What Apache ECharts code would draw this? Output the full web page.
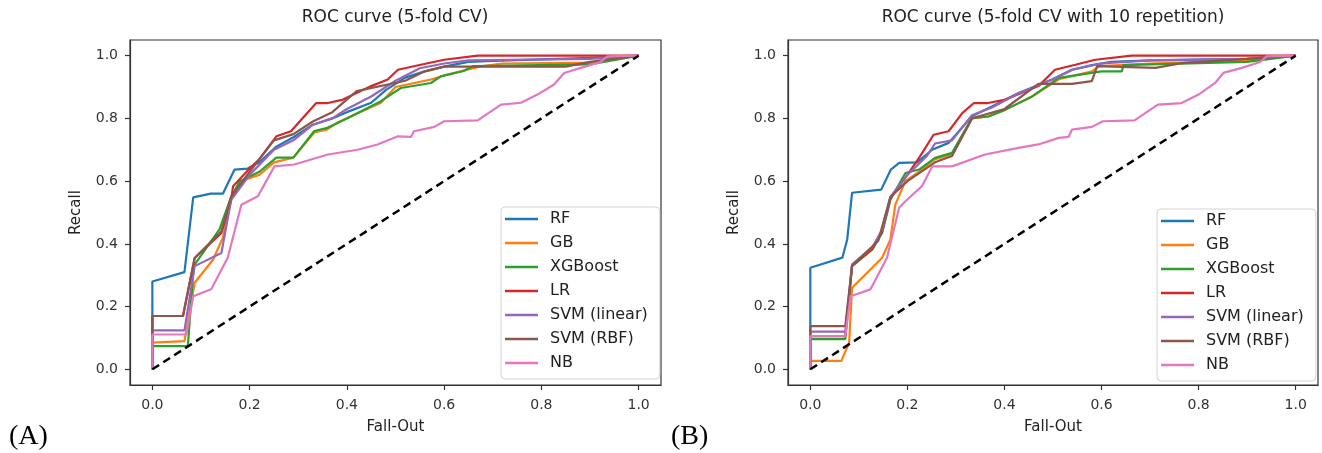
<!DOCTYPE html>
<html>
<head>
<meta charset="utf-8">
<script src="https://cdn.jsdelivr.net/npm/echarts@6/dist/echarts.min.js"></script>
<style>
html,body{margin:0;padding:0;background:#fff;}
#chart{width:1322px;height:453px;}
</style>
</head>
<body>
<div id="chart"></div>
<script>
// ---- Data ----
const modelNames = ['RF', 'GB', 'XGBoost', 'LR', 'SVM (linear)', 'SVM (RBF)', 'NB'];
const tickValues = [0, 0.2, 0.4, 0.6, 0.8, 1.0];
const titleA = 'ROC curve (5-fold CV)';
const titleB = 'ROC curve (5-fold CV with 10 repetition)';
const diagonal = [[0, 0], [1, 1]];

// Panel A: [fall-out, recall]
const rocA_RF = [[0,0],[0,0.28],[0.066,0.31],[0.084,0.548],[0.12,0.56],[0.145,0.56],[0.169,0.637],[0.196,0.64],[0.22,0.66],[0.255,0.71],[0.29,0.74],[0.33,0.78],[0.37,0.80],[0.40,0.82],[0.45,0.85],[0.48,0.89],[0.52,0.93],[0.56,0.95],[0.6,0.965],[0.65,0.98],[0.7,0.983],[0.8,0.988],[0.9,0.993],[1,1]];
const rocA_GB = [[0,0],[0,0.085],[0.066,0.09],[0.087,0.276],[0.125,0.35],[0.145,0.42],[0.162,0.54],[0.18,0.60],[0.22,0.62],[0.25,0.66],[0.29,0.675],[0.333,0.755],[0.36,0.765],[0.38,0.786],[0.42,0.815],[0.47,0.85],[0.5,0.9],[0.573,0.924],[0.607,0.94],[0.675,0.966],[0.72,0.975],[0.9,0.978],[1,1]];
const rocA_XGB = [[0,0],[0,0.074],[0.073,0.074],[0.085,0.33],[0.138,0.446],[0.162,0.55],[0.18,0.60],[0.22,0.63],[0.255,0.675],[0.29,0.675],[0.333,0.76],[0.36,0.77],[0.4,0.80],[0.47,0.855],[0.511,0.897],[0.573,0.913],[0.593,0.934],[0.64,0.951],[0.66,0.967],[0.9,0.972],[1,1]];
const rocA_LR = [[0,0],[0,0.17],[0.063,0.17],[0.087,0.355],[0.142,0.435],[0.162,0.54],[0.166,0.584],[0.2,0.64],[0.22,0.67],[0.255,0.743],[0.285,0.759],[0.337,0.849],[0.361,0.849],[0.392,0.86],[0.45,0.903],[0.484,0.924],[0.505,0.955],[0.552,0.971],[0.6,0.987],[0.669,1],[1,1]];
const rocA_SVML = [[0,0],[0,0.124],[0.066,0.124],[0.087,0.329],[0.142,0.371],[0.162,0.54],[0.2,0.62],[0.25,0.70],[0.29,0.73],[0.33,0.78],[0.37,0.80],[0.40,0.83],[0.45,0.87],[0.5,0.92],[0.55,0.96],[0.6,0.975],[0.65,0.985],[0.9,0.99],[1,1]];
const rocA_SVMR = [[0,0],[0,0.17],[0.063,0.17],[0.087,0.355],[0.142,0.44],[0.162,0.55],[0.2,0.63],[0.25,0.73],[0.29,0.75],[0.33,0.79],[0.37,0.82],[0.42,0.887],[0.484,0.908],[0.52,0.92],[0.56,0.95],[0.6,0.965],[0.85,0.965],[0.9,0.98],[1,1]];
const rocA_NB = [[0,0],[0,0.111],[0.07,0.111],[0.084,0.233],[0.121,0.255],[0.155,0.356],[0.183,0.525],[0.217,0.552],[0.251,0.647],[0.292,0.653],[0.361,0.685],[0.422,0.70],[0.463,0.717],[0.505,0.743],[0.532,0.741],[0.538,0.759],[0.58,0.773],[0.6,0.791],[0.669,0.794],[0.717,0.844],[0.758,0.85],[0.792,0.876],[0.826,0.908],[0.847,0.945],[0.881,0.961],[0.922,0.98],[0.936,0.998],[1,1]];

// Panel B: [fall-out, recall]
const rocB_RF = [[0,0],[0,0.324],[0.066,0.356],[0.076,0.414],[0.086,0.563],[0.146,0.573],[0.166,0.637],[0.183,0.658],[0.22,0.66],[0.251,0.70],[0.285,0.722],[0.333,0.807],[0.374,0.838],[0.429,0.881],[0.498,0.924],[0.539,0.955],[0.58,0.97],[0.62,0.98],[0.7,0.985],[0.9,0.99],[1,1]];
const rocB_GB = [[0,0],[0,0.027],[0.064,0.027],[0.08,0.085],[0.086,0.26],[0.148,0.356],[0.165,0.414],[0.175,0.525],[0.196,0.60],[0.224,0.63],[0.257,0.67],[0.292,0.685],[0.333,0.80],[0.367,0.806],[0.402,0.828],[0.457,0.87],[0.512,0.925],[0.58,0.95],[0.595,0.967],[0.7,0.975],[0.9,0.985],[1,1]];
const rocB_XGB = [[0,0],[0,0.096],[0.072,0.096],[0.086,0.329],[0.128,0.382],[0.148,0.435],[0.165,0.541],[0.196,0.626],[0.224,0.637],[0.257,0.674],[0.292,0.69],[0.333,0.801],[0.367,0.806],[0.402,0.828],[0.457,0.87],[0.512,0.929],[0.6,0.95],[0.642,0.95],[0.645,0.97],[0.9,0.98],[1,1]];
const rocB_LR = [[0,0],[0,0.106],[0.072,0.106],[0.086,0.33],[0.128,0.385],[0.148,0.44],[0.165,0.545],[0.2,0.62],[0.224,0.674],[0.254,0.748],[0.285,0.759],[0.313,0.817],[0.337,0.849],[0.366,0.849],[0.402,0.86],[0.47,0.903],[0.504,0.955],[0.546,0.971],[0.587,0.987],[0.662,1],[1,1]];
const rocB_SVML = [[0,0],[0,0.12],[0.072,0.12],[0.086,0.335],[0.128,0.39],[0.148,0.445],[0.165,0.55],[0.2,0.62],[0.24,0.68],[0.257,0.72],[0.292,0.73],[0.333,0.81],[0.374,0.835],[0.43,0.88],[0.5,0.925],[0.54,0.955],[0.6,0.975],[0.7,0.985],[0.9,0.99],[1,1]];
const rocB_SVMR = [[0,0],[0,0.138],[0.072,0.138],[0.086,0.33],[0.14,0.41],[0.165,0.55],[0.2,0.6],[0.257,0.66],[0.292,0.68],[0.333,0.80],[0.4,0.83],[0.47,0.91],[0.539,0.91],[0.58,0.919],[0.591,0.967],[0.711,0.961],[0.765,0.976],[1,1]];
const rocB_NB = [[0,0],[0,0.106],[0.072,0.106],[0.083,0.233],[0.124,0.255],[0.158,0.356],[0.183,0.515],[0.196,0.536],[0.23,0.584],[0.251,0.647],[0.292,0.647],[0.36,0.685],[0.429,0.706],[0.47,0.717],[0.512,0.738],[0.532,0.741],[0.539,0.764],[0.58,0.773],[0.603,0.791],[0.668,0.794],[0.716,0.844],[0.765,0.849],[0.8,0.876],[0.834,0.913],[0.851,0.945],[0.889,0.961],[0.927,0.98],[0.94,0.998],[1,1]];

const colors = ['#1f77b4', '#ff7f0e', '#2ca02c', '#d62728', '#9467bd', '#8c564b', '#e377c2'];
const panelA = [rocA_RF, rocA_GB, rocA_XGB, rocA_LR, rocA_SVML, rocA_SVMR, rocA_NB];
const panelB = [rocB_RF, rocB_GB, rocB_XGB, rocB_LR, rocB_SVML, rocB_SVMR, rocB_NB];

// ---- Chart ----
const FONT = 'DejaVu Sans';
function makeX(gi) {
  return {
    type: 'value', gridIndex: gi, min: -0.046, max: 1.046,
    name: 'Fall-Out', nameLocation: 'middle', nameGap: 35,
    nameTextStyle: {fontFamily: FONT, fontSize: 15, color: '#222'},
    axisLine: {show: true, onZero: false, lineStyle: {color: '#333', width: 1.2}},
    axisTick: {show: true, length: 5, customValues: tickValues, lineStyle: {color: '#333', width: 1.2}},
    axisLabel: {customValues: tickValues, margin: 13, fontFamily: FONT, fontSize: 14, color: '#333',
      formatter: v => v.toFixed(1)},
    splitLine: {show: false}
  };
}
function makeY(gi) {
  return {
    type: 'value', gridIndex: gi, min: -0.05, max: 1.05,
    name: 'Recall', nameLocation: 'middle', nameGap: 46,
    nameTextStyle: {fontFamily: FONT, fontSize: 15, color: '#222'},
    axisLine: {show: true, onZero: false, lineStyle: {color: '#333', width: 1.2}},
    axisTick: {show: true, length: 5, customValues: tickValues, lineStyle: {color: '#333', width: 1.2}},
    axisLabel: {customValues: tickValues, margin: 12, fontFamily: FONT, fontSize: 14, color: '#333',
      formatter: v => v.toFixed(1)},
    splitLine: {show: false}
  };
}
function makeLegend(left, top) {
  return {
    orient: 'vertical', left: left, top: top,
    data: modelNames, icon: 'rect', itemWidth: 33, itemHeight: 2.5, itemGap: 8,
    padding: [4, 12, 8, 4],
    backgroundColor: 'rgba(255,255,255,0.85)', borderColor: '#d4d4d4', borderWidth: 1, borderRadius: 4,
    selectedMode: false,
    textStyle: {fontFamily: FONT, fontSize: 16, lineHeight: 16, color: '#222', padding: [0, 0, 0, 7]}
  };
}
const series = [];
[panelA, panelB].forEach((panel, gi) => {
  panel.forEach((data, i) => {
    series.push({
      type: 'line', name: modelNames[i], xAxisIndex: gi, yAxisIndex: gi, data: data,
      symbol: 'none', showSymbol: false, animation: false,
      itemStyle: {color: colors[i]},
      lineStyle: {color: colors[i], width: 2.2}
    });
  });
  series.push({
    type: 'line', name: 'chance', xAxisIndex: gi, yAxisIndex: gi, data: diagonal,
    symbol: 'none', showSymbol: false, animation: false,
    itemStyle: {color: '#000'},
    lineStyle: {color: '#000', width: 2.5, type: [8, 5]}
  });
});

const chart = echarts.init(document.getElementById('chart'), null, {renderer: 'canvas'});
chart.setOption({
  animation: false,
  backgroundColor: '#fff',
  title: [
    {text: titleA, left: 395, top: 9, textAlign: 'center', padding: 0,
      textStyle: {fontFamily: FONT, fontSize: 17, fontWeight: 'normal', color: '#222'}},
    {text: titleB, left: 1053, top: 9, textAlign: 'center', padding: 0,
      textStyle: {fontFamily: FONT, fontSize: 17, fontWeight: 'normal', color: '#222'}}
  ],
  grid: [
    {left: 130, top: 40, width: 531, height: 345, show: true, borderColor: '#333', borderWidth: 1.2, containLabel: false},
    {left: 788, top: 40, width: 530, height: 345, show: true, borderColor: '#333', borderWidth: 1.2, containLabel: false}
  ],
  xAxis: [makeX(0), makeX(1)],
  yAxis: [makeY(0), makeY(1)],
  legend: [makeLegend(501, 207), makeLegend(1157, 209)],
  graphic: [
    {type: 'text', left: 9, top: 423, style: {text: '(A)', font: '28px "Liberation Serif"', fill: '#000'}},
    {type: 'text', left: 671, top: 423, style: {text: '(B)', font: '28px "Liberation Serif"', fill: '#000'}}
  ],
  series: series
});
</script>
</body>
</html>
